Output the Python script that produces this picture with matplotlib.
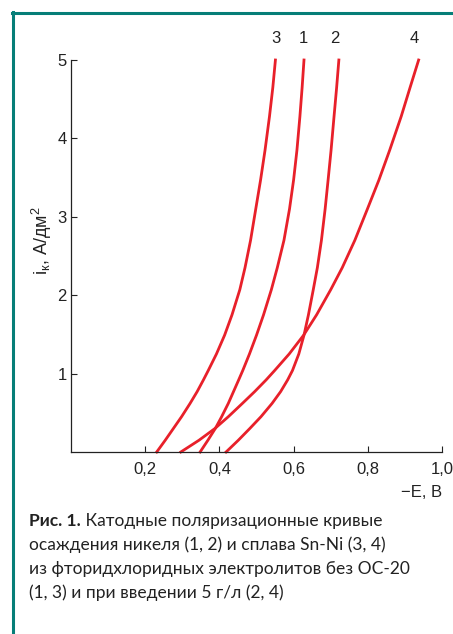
"""Cathodic polarization curves, Ni and Sn-Ni (Рис. 1)."""

import matplotlib
matplotlib.use('Agg')
import matplotlib.pyplot as plt
from matplotlib.lines import Line2D
from matplotlib.ticker import FuncFormatter

# curves: -E, V vs i_k, A/dm2
CURVE_I = [0.0, 0.15, 0.30, 0.45, 0.62, 0.77, 0.92, 1.04, 1.25, 1.49,
           1.75, 2.07, 2.35, 2.70, 3.10, 3.47, 3.85, 4.28, 4.65, 5.0]
CURVE_E = {
    '3': [0.231, 0.254, 0.276, 0.298, 0.321, 0.340, 0.357, 0.370, 0.392,
          0.414, 0.434, 0.455, 0.469, 0.484, 0.498, 0.511, 0.523, 0.535,
          0.544, 0.551],
    '1': [0.348, 0.369, 0.389, 0.406, 0.424, 0.438, 0.452, 0.463, 0.481,
          0.500, 0.519, 0.540, 0.556, 0.574, 0.589, 0.600, 0.609, 0.617,
          0.623, 0.628],
    '2': [0.418, 0.451, 0.482, 0.512, 0.542, 0.565, 0.584, 0.597, 0.614,
          0.628, 0.640, 0.653, 0.664, 0.675, 0.685, 0.693, 0.701, 0.709,
          0.716, 0.722],
    '4': [0.296, 0.345, 0.388, 0.424, 0.462, 0.495, 0.526, 0.549, 0.588,
          0.627, 0.662, 0.700, 0.731, 0.765, 0.799, 0.830, 0.859, 0.890,
          0.914, 0.937],
}
LABEL_X = {'3': 0.553, '1': 0.626, '2': 0.712, '4': 0.925}

X_TICKS = [0.2, 0.4, 0.6, 0.8, 1.0]
Y_TICKS = [1, 2, 3, 4, 5]

CAPTION_BOLD = 'Рис. 1.'
CAPTION = [
    ' Катодные поляризационные кривые',
    'осаждения никеля (1, 2) и сплава Sn-Ni (3, 4)',
    'из фторидхлоридных электролитов без ОС-20',
    '(1, 3) и при введении 5 г/л (2, 4)',
]

RED = '#e8202a'
TEAL = '#067e78'
INK = '#222222'
W, H = 453, 634

plt.rcParams['font.family'] = ['Liberation Sans', 'DejaVu Sans']

fig = plt.figure(figsize=(W / 100, H / 100), dpi=100)
ax = fig.add_axes([71 / W, 1 - 452 / H, (442 - 71) / W, (452 - 60) / H])

for name, evals in CURVE_E.items():
    ax.plot(evals, CURVE_I, color=RED, lw=2.0, clip_on=False,
            solid_joinstyle='round')
    ax.text(LABEL_X[name], 5.27, name, ha='center', va='center',
            fontsize=12, color=INK)

ax.set_xlim(0, 1.0)
ax.set_ylim(0, 5)
ax.set_xticks(X_TICKS)
ax.set_yticks(Y_TICKS)
ax.xaxis.set_major_formatter(
    FuncFormatter(lambda v, p: '{:.1f}'.format(v).replace('.', ',')))
ax.tick_params(direction='in', length=4, width=0.8, labelsize=12,
               colors=INK)
ax.tick_params(axis='x', pad=7)
ax.tick_params(axis='y', pad=3)
for side in ('top', 'right'):
    ax.spines[side].set_visible(False)
for side in ('left', 'bottom'):
    ax.spines[side].set_linewidth(0.9)
    ax.spines[side].set_color(INK)

ax.text(-0.078, 0.538, 'i$_\\mathregular{к}$, А/дм$^\\mathregular{2}$',
        rotation=90, ha='center', va='center', fontsize=13, color=INK,
        transform=ax.transAxes)
ax.text(1.0, -0.52, '−E, В', ha='right', va='center', fontsize=12,
        color=INK)

# caption
cap_font = ['Lato', 'DejaVu Sans']
cap_size = 12.5
y0 = 1 - 521 / H
t = fig.text(29 / W, y0, CAPTION_BOLD, fontsize=cap_size, fontweight='bold',
             family=cap_font, va='center', color=INK)
fig.canvas.draw()
bb = t.get_window_extent()
fig.text(bb.x1 / W, y0, CAPTION[0], fontsize=cap_size, family=cap_font,
         va='center', color=INK)
for k, line in enumerate(CAPTION[1:]):
    fig.text(29 / W, 1 - (521 + 24 * (k + 1)) / H, line, fontsize=cap_size,
             family=cap_font, va='center', color=INK)

# teal frame
fig.add_artist(Line2D([13 / W, 13 / W], [0, 1 - 12 / H], color=TEAL,
                      lw=2.2, transform=fig.transFigure))
fig.add_artist(Line2D([12 / W, 1], [1 - 13 / H, 1 - 13 / H], color=TEAL,
                      lw=2.2, transform=fig.transFigure))

fig.savefig('out.png', dpi=100)
